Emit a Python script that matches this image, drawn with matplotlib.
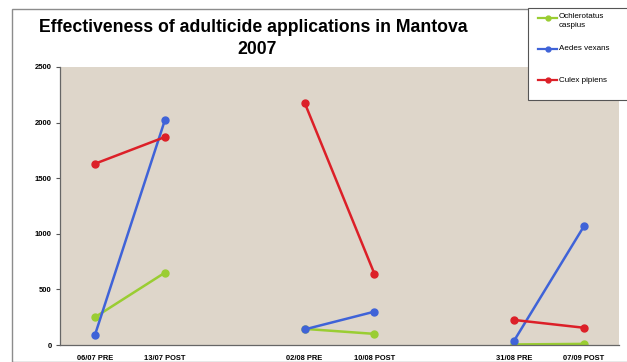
import numpy as np
import matplotlib
matplotlib.use("Agg")
import matplotlib.pyplot as plt
from matplotlib.patches import Rectangle
from matplotlib.lines import Line2D

categories = ["06/07 PRE", "13/07 POST", "", "02/08 PRE", "10/08 POST", "", "31/08 PRE", "07/09 POST"]
ochlerotatus = [250, 650, np.nan, 145, 100, np.nan, 5, 10]
aedes = [90, 2020, np.nan, 140, 300, np.nan, 40, 1070]
culex = [1630, 1870, np.nan, 2180, 640, np.nan, 225, 155]
series_names = ["Ochlerotatus\ncaspius", "Aedes vexans", "Culex pipiens"]
yticks = [0, 500, 1000, 1500, 2000, 2500]

plt.rcParams['font.family'] = ['Liberation Sans', 'DejaVu Sans']

W, H = 627, 362
fig = plt.figure(figsize=(W / 100, H / 100), dpi=100)
fig.patch.set_facecolor('white')

def fx(px):
    return px / W

def fy(py):
    return 1 - py / H

# chart border
fig.patches.append(Rectangle((fx(12), 0), 1.0, fy(9), transform=fig.transFigure,
                             fill=False, edgecolor='#8c8c8c', linewidth=1.0))

ax = fig.add_axes([fx(60), fy(345), fx(619 - 60), (345 - 67) / H])
ax.set_facecolor('#DED6CA')

x = np.arange(len(categories))
colors = ['#9ACD32', '#3F63D8', '#DC2028']
all_series = [ochlerotatus, aedes, culex]
for vals, col, name in zip(all_series, colors, series_names):
    ax.plot(x, vals, color=col, lw=1.8, marker='o', ms=5, label=name)

ax.set_xlim(-0.5, len(categories) - 0.5)
ax.set_ylim(0, 2500)
ax.set_yticks(yticks)
ax.set_yticklabels([str(v) for v in yticks], fontsize=5.5, fontweight='bold')
ax.set_xticks(x)
ax.set_xticklabels(categories, fontsize=5.4, fontweight='bold')
ax.tick_params(axis='x', length=0, pad=7)
ax.tick_params(axis='y', length=3, width=0.8, color='#555555', pad=3)
for s in ['top', 'right']:
    ax.spines[s].set_visible(False)
for s in ['left', 'bottom']:
    ax.spines[s].set_color('#666666')
    ax.spines[s].set_linewidth(0.9)

fig.text(fx(253), fy(28), "Effectiveness of adulticide applications in Mantova",
         ha='center', va='center', fontsize=12.7, fontweight='bold')
fig.text(fx(257), fy(50), "2007", ha='center', va='center', fontsize=12.7, fontweight='bold')

# legend box (extends beyond right edge as in the reference)
fig.patches.append(Rectangle((fx(528), fy(100)), fx(120), (100 - 8) / H,
                             transform=fig.transFigure, facecolor='white',
                             edgecolor='#555555', linewidth=0.8, zorder=5))
legend_y = [18, 49, 80]
for name, col, ly in zip(series_names, colors, legend_y):
    fig.lines.append(Line2D([fx(538), fx(557)], [fy(ly), fy(ly)], transform=fig.transFigure,
                            color=col, lw=1.6, zorder=6))
    fig.lines.append(Line2D([fx(547.5)], [fy(ly)], transform=fig.transFigure,
                            color=col, marker='o', ms=3.5, zorder=6))
    if '\n' in name:
        fig.text(fx(559), fy(ly - 4.5), name, ha='left', va='top', fontsize=5.8,
                 zorder=7, linespacing=1.35)
    else:
        fig.text(fx(559), fy(ly), name, ha='left', va='center', fontsize=5.8, zorder=7)

fig.savefig("out.png", dpi=100, facecolor=fig.get_facecolor())
